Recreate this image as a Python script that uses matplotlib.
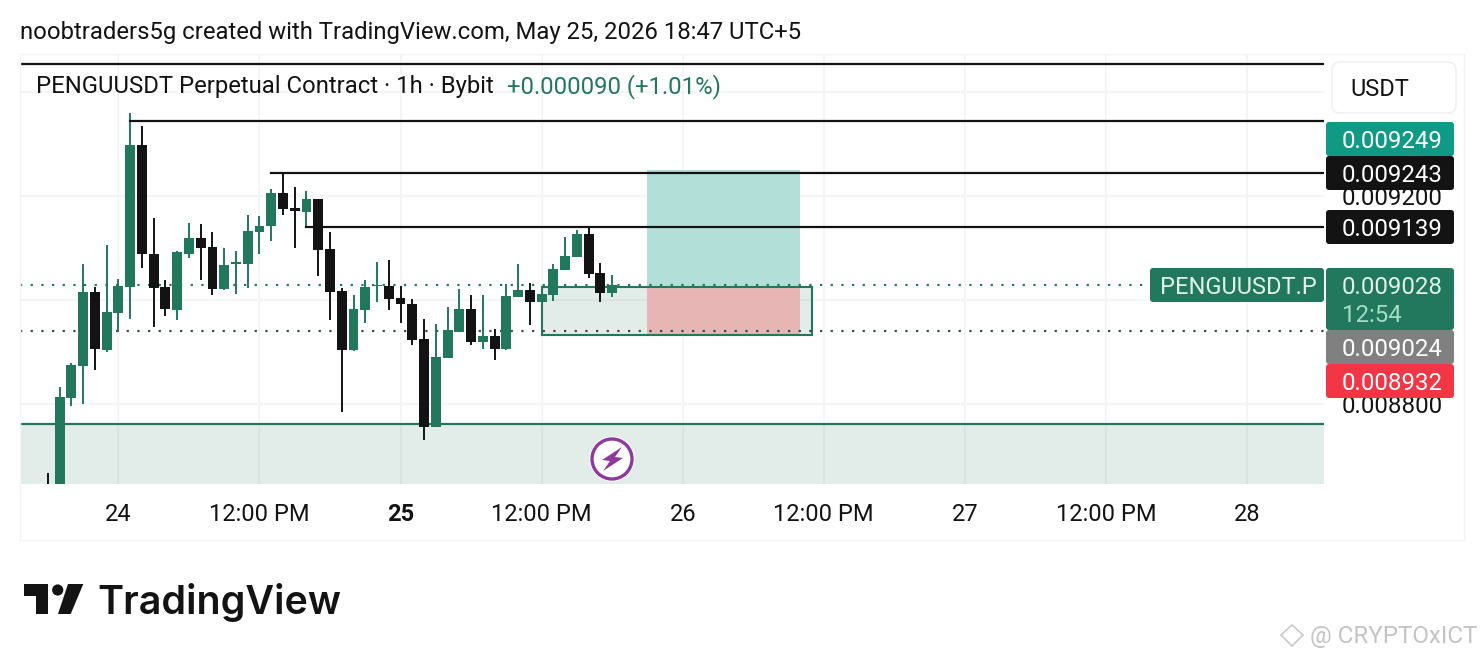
import numpy as np
import matplotlib
matplotlib.use('Agg')
import matplotlib.pyplot as plt
from matplotlib.patches import Rectangle, FancyBboxPatch, Polygon, Circle

plt.rcParams['font.family'] = ['Roboto', 'DejaVu Sans']

# Candles, hourly, prices in millionths of USDT
first_hour = -6     # hours from May 24 00:00
opens = [8640, 8630, 8812, 8873, 9015, 8903, 8975, 9025, 9298, 9089, 9025, 8981, 9089, 9119, 9102, 9020, 9069,
         9069, 9130, 9141, 9205, 9177, 9169, 9194, 9098, 9017, 8903, 8981, 9026, 9027, 9003, 8992, 8925, 8756,
         8889, 8939, 8982, 8919, 8930, 8906, 9006, 9019, 8996, 9009, 9057, 9083, 9127, 9052, 9014]
closes = [8620, 8814, 8875, 9015, 8905, 8977, 9027, 9298, 9089, 9023, 8982, 9091, 9119, 9100, 9021, 9067, 9072,
          9132, 9142, 9205, 9175, 9170, 9194, 9096, 9015, 8904, 8982, 9025, 9028, 9002, 8991, 8923, 8756, 8890,
          8941, 8982, 8919, 8930, 8906, 9007, 9019, 8996, 9011, 9059, 9084, 9127, 9050, 9014, 9028]
highs = [8666, 8833, 8878, 9069, 9024, 9105, 9040, 9359, 9334, 9157, 9039, 9094, 9148, 9146, 9130, 9099, 9094,
         9163, 9161, 9214, 9244, 9217, 9209, 9194, 9130, 9023, 9010, 9039, 9073, 9077, 9027, 9001, 8963, 8953,
         8986, 9021, 9009, 9009, 8943, 9030, 9069, 9032, 9011, 9069, 9121, 9134, 9141, 9071, 9048]
lows = [8610, 8620, 8796, 8800, 8865, 8900, 8939, 8964, 9062, 8948, 8969, 8961, 9081, 9038, 9009, 9019, 9011,
        9023, 9088, 9113, 9163, 9100, 9140, 9046, 8961, 8785, 8902, 8955, 8996, 8980, 8955, 8913, 8731, 8756,
        8889, 8939, 8913, 8906, 8884, 8904, 9006, 8951, 8996, 8998, 9057, 9083, 9042, 8996, 9005]

# Axis ticks
time_ticks = [0, 12, 24, 36, 48, 60, 72, 84, 96]
time_labels = ['24', '12:00 PM', '25', '12:00 PM', '26', '12:00 PM', '27', '12:00 PM', '28']
price_ticks = [9400, 9200, 9000, 8800]
price_labels = ['', '0.009200', '', '0.008800']

# Drawn levels: (price, start hour)
solid_levels = [(9453.5, -8.4), (9344, 1), (9244, 13), (9140, 16)]
dotted_levels = [9028, 8940]
zone_top = 8761
zone_bottom = 8600

# Position tool
entry_price = 9024.5
target_price = 9249.5
stop_price = 8932
range_start, range_end = 36, 59
trade_start, trade_end = 44.95, 58

# Price tags: text, colour, top px, bottom px
price_tags = [('0.009249', '#0e9a85', 122, 156),
              ('0.009243', '#131313', 156, 190),
              ('0.009139', '#131313', 210, 244),
              ('0.009024', '#808080', 330, 364),
              ('0.008932', '#f23645', 364, 398)]

GREEN = '#22785c'
BLACK = '#131313'


def tag(axes, x, y, w, h, color):
    axes.add_patch(FancyBboxPatch((x, y), w, h, boxstyle='round,pad=0,rounding_size=3', fc=color, ec='none'))


fig = plt.figure(figsize=(14.84, 6.6), dpi=100, facecolor='white')

# Chart area sits at px 20-1324 / 54-484
ax = fig.add_axes([20 / 1484, 1 - 484 / 660, 1304 / 1484, 430 / 660])
ax.set_xlim(-8.37, 102.55)
ax.set_ylim(8645.8, 9472.7)
for s in ax.spines.values():
    s.set_visible(False)
ax.yaxis.tick_right()
ax.set_xticks(time_ticks)
ax.set_xticklabels(time_labels, fontsize=17, color=BLACK)
ax.get_xticklabels()[2].set_fontweight('bold')
ax.set_yticks(price_ticks)
ax.set_yticklabels(price_labels, fontsize=17.3, color=BLACK)
ax.tick_params(axis='x', length=0, pad=13.5)
ax.tick_params(axis='y', length=0, pad=13)
ax.grid(color='#f3f4f4', lw=1.2)
ax.set_axisbelow(True)

# Support zone
ax.axhspan(zone_bottom, zone_top, color=GREEN, alpha=0.13, lw=0, zorder=1)
ax.axhline(zone_top, color=GREEN, lw=1.6, zorder=2)

# Range box and long position
ax.add_patch(Rectangle((range_start, stop_price), range_end - range_start, entry_price - stop_price,
                       fc=GREEN, alpha=0.13, ec='none', zorder=1.5))
ax.add_patch(Rectangle((trade_start, entry_price), trade_end - trade_start, target_price - entry_price,
                       fc='#b2dfd8', ec='none', zorder=1.6))
ax.add_patch(Rectangle((trade_start, stop_price), trade_end - trade_start, entry_price - stop_price,
                       fc='#e6b5b4', ec='none', zorder=1.6))
ax.add_patch(Rectangle((range_start, stop_price), range_end - range_start, entry_price - stop_price,
                       fc='none', ec=GREEN, lw=1.5, zorder=1.7))

# Upper dotted is the live price line, lower one is darker
ax.axhline(dotted_levels[0], color=GREEN, lw=1.6, ls=(0, (1, 3.8)), zorder=1.8)
ax.axhline(dotted_levels[1], color='#3a4a45', lw=1.6, ls=(0, (1, 3.8)), zorder=1.8)

# Candles
hours = first_hour + np.arange(len(opens))
opens, closes = np.array(opens), np.array(closes)
colors = [GREEN if c >= o else BLACK for o, c in zip(opens, closes)]
ax.vlines(hours, lows, highs, colors=colors, lw=1.4, zorder=3)
ax.bar(hours, np.abs(closes - opens), bottom=np.minimum(opens, closes), width=0.84, color=colors, zorder=3.1)

for price, start in solid_levels:
    ax.plot([start, 102.55], [price, price], color=BLACK, lw=1.6, zorder=4)

# Everything else is placed in pixels on a full-size overlay
ov = fig.add_axes([0, 0, 1, 1], zorder=5)
ov.set_xlim(0, 1484)
ov.set_ylim(660, 0)
ov.axis('off')

ov.add_patch(Rectangle((20, 54), 1444, 486, fc='none', ec='#f3f4f4', lw=1))

ov.text(20, 33, 'noobtraders5g created with TradingView.com, May 25, 2026 18:47 UTC+5',
        fontsize=17.2, color=BLACK, va='center')
ov.text(36, 87, 'PENGUUSDT Perpetual Contract · 1h · Bybit', fontsize=17.2, color=BLACK, va='center')
ov.text(507, 87, '+0.000090 (+1.01%)', fontsize=17.2, color=GREEN, va='center')

# Currency button
ov.add_patch(FancyBboxPatch((1332, 62), 124, 51, boxstyle='round,pad=0,rounding_size=8',
                            fc='white', ec='#f0f1f1', lw=1.2))
ov.text(1350, 90, 'USDT', fontsize=17, color=BLACK, va='center')

# Price tags
for label, col, top, bottom in price_tags:
    tag(ov, 1326, top, 128, bottom - top, col)
    ov.text(1342, (top + bottom) / 2 + 2, label, fontsize=17.3, color='white', va='center')
tag(ov, 1326, 268, 128, 62, GREEN)
ov.text(1342, 288, '0.009028', fontsize=17.3, color='#dff2ea', va='center')
ov.text(1342, 316, '12:54', fontsize=17.3, color='#a5dcc5', va='center')
tag(ov, 1150, 268, 174, 34, GREEN)
ov.text(1160, 287, 'PENGUUSDT.P', fontsize=17, color='#dff2ea', va='center')

# Lightning badge
ov.add_patch(Circle((612, 459), 22.5, fc='white', ec='none'))
ov.add_patch(Circle((612, 459), 20, fc='white', ec='#8e3a9d', lw=2.4))
ov.add_patch(Polygon([(622, 447), (602, 460), (610, 461), (603, 471), (623, 458), (615, 457)],
                     fc='#8e3a9d', ec='none'))

# TradingView logo
ov.add_patch(Polygon([(24, 584), (47.7, 584), (47.7, 614), (36, 614), (36, 596), (24, 596)], fc=BLACK, ec='none'))
ov.add_patch(Circle((57.7, 590), 5.6, fc=BLACK, ec='none'))
ov.add_patch(Polygon([(68, 584), (83.3, 584), (70.7, 614), (58, 614)], fc=BLACK, ec='none'))
ov.text(97, 614, 'TradingView', fontsize=28.4, family='Inter', fontweight='semibold', color=BLACK, va='baseline')

# Watermark
ov.add_patch(Polygon([(1292, 625), (1303, 635), (1292, 646), (1281, 635)], fc='none', ec='#c9c9c9', lw=1.2))
ov.text(1310, 636, '@ CRYPTOxICT', fontsize=17.4, color='#c4c4c4', va='center')

fig.savefig('out.png', dpi=100)
